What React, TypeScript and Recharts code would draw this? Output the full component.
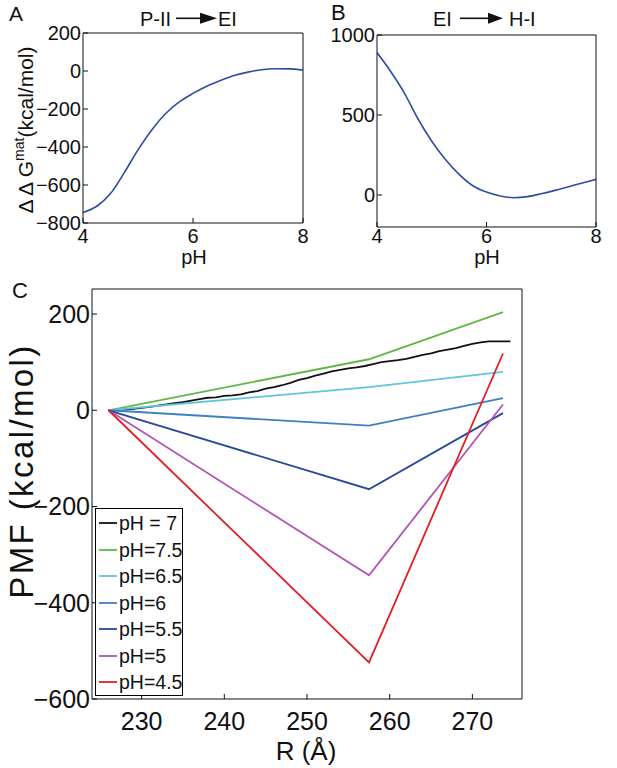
import React from 'react';
import { LineChart, Line, XAxis, YAxis, Legend } from 'recharts';

const FONT = '"Liberation Sans", Arial, Helvetica, sans-serif';

// Panel A: P-II -> EI
const phA = [4, 4.25, 4.5, 4.75, 5, 5.25, 5.5, 5.75, 6, 6.25, 6.5, 6.75, 7, 7.25, 7.5, 7.75, 8];
const dGA = [-745, -712, -645, -535, -415, -310, -225, -163, -118, -80, -50, -24, -6, 7, 12, 11, 5];

// Panel B: EI -> H-I
const phB = [4, 4.25, 4.5, 4.75, 5, 5.25, 5.5, 5.75, 6, 6.25, 6.5, 6.75, 7, 7.25, 7.5, 7.75, 8];
const dGB = [890, 772, 637, 475, 336, 222, 129, 58, 18, -6, -17, -10, 8, 29, 52, 75, 98];

// Panel C: PMF vs R
const rKinks = [226, 257.5, 273.7];
const pmf75 = [0, 106, 204];
const pmf65 = [0, 48, 80];
const pmf6 = [0, -32, 25];
const pmf55 = [0, -164, -6];
const pmf5 = [0, -343, 12];
const pmf45 = [0, -524, 118];

const rBlack = [226, 227, 228, 229, 230, 231, 232, 233, 234, 235, 236, 237, 238, 239, 240, 241, 242, 243, 244, 245, 246, 247, 248, 249, 250, 251, 252, 253, 254, 255, 256, 257, 258, 259, 260, 261, 262, 263, 264, 265, 266, 267, 268, 269, 270, 271, 272, 273, 274, 274.6];
const pmf7 = [0, 0.5, 1.5, 3, 5, 7, 9.5, 12, 15, 17, 20, 23, 26, 27, 30, 31, 33, 37, 40, 45, 48, 52, 57, 63, 67, 72, 76, 81, 84, 87, 89, 92, 96, 100, 102, 104, 107, 111, 115, 118, 123, 126, 129, 134, 138, 141, 143, 143, 143, 143];

const aTicksX = [4, 6, 8];
const aTicksY = [-800, -600, -400, -200, 0, 200];
const bTicksX = [4, 6, 8];
const bTicksY = [0, 500, 1000];
const cTicksX = [230, 240, 250, 260, 270];
const cTicksY = [-600, -400, -200, 0, 200];

const seriesNames = ['pH = 7', 'pH=7.5', 'pH=6.5', 'pH=6', 'pH=5.5', 'pH=5', 'pH=4.5'];
const seriesColors = ['#111111', '#5fb846', '#5ec6d9', '#3f7fc4', '#26479a', '#b055b4', '#e31e24'];

const zip = (xs: number[], ys: number[]) => xs.map((x, i) => ({ x, y: ys[i] }));

const dataA = zip(phA, dGA);
const dataB = zip(phB, dGB);
const seriesData = [
  zip(rBlack, pmf7),
  zip(rKinks, pmf75),
  zip(rKinks, pmf65),
  zip(rKinks, pmf6),
  zip(rKinks, pmf55),
  zip(rKinks, pmf5),
  zip(rKinks, pmf45),
];

const fmt = (v: number) => (v < 0 ? '\u2212' + Math.abs(v) : String(v));
const curveColor = '#2c4da0';

const LegendBox = () => (
  <div
    style={{
      width: 88,
      height: 188,
      boxSizing: 'border-box',
      border: '1.5px solid #000',
      background: '#fff',
      paddingTop: 1,
      fontFamily: FONT,
    }}
  >
    {seriesNames.map((n, i) => (
      <div key={n} style={{ height: 26.5, display: 'flex', alignItems: 'center' }}>
        <svg width={23} height={4} style={{ flex: 'none' }}>
          <line x1={3} y1={2} x2={21} y2={2} stroke={seriesColors[i]} strokeWidth={1.8} />
        </svg>
        <span style={{ fontSize: 19.5, color: '#111', whiteSpace: 'nowrap', lineHeight: '26px' }}>{n}</span>
      </div>
    ))}
  </div>
);

const smallTick = { fill: '#111', fontSize: 20, fontFamily: FONT };
const bigTick = { fill: '#111', fontSize: 25, fontFamily: FONT };

export default function App() {
  return (
    <div style={{ position: 'absolute', left: 0, top: 0, width: 617, height: 768, background: '#fff', fontFamily: FONT }}>
      {/* Panel A */}
      <div style={{ position: 'absolute', left: 0, top: 0 }}>
        <LineChart width={310} height={270} data={dataA} margin={{ top: 32, right: 6, bottom: 17, left: 0 }}>
          <XAxis dataKey="x" type="number" domain={[4, 8]} ticks={aTicksX} height={30} tickSize={-5} tickMargin={11}
            stroke="#111" tick={smallTick} allowDataOverflow />
          <XAxis xAxisId="top" dataKey="x" type="number" domain={[4, 8]} ticks={aTicksX} orientation="top" height={1}
            tickSize={-5} tick={false} stroke="#111" />
          <YAxis type="number" domain={[-800, 200]} ticks={aTicksY} width={83} tickSize={-5} tickMargin={7}
            stroke="#111" tick={smallTick} tickFormatter={fmt} allowDataOverflow />
          <YAxis yAxisId="right" type="number" domain={[-800, 200]} ticks={aTicksY} orientation="right" width={1}
            tickSize={-5} tick={false} stroke="#111" />
          <Line type="monotone" dataKey="y" stroke={curveColor} strokeWidth={1.6} dot={false} isAnimationActive={false} />
        </LineChart>
      </div>

      {/* Panel B */}
      <div style={{ position: 'absolute', left: 300, top: 0 }}>
        <LineChart width={317} height={270} data={dataB} margin={{ top: 34, right: 20, bottom: 13, left: 0 }}>
          <XAxis dataKey="x" type="number" domain={[4, 8]} ticks={bTicksX} height={30} tickSize={-5} tickMargin={7}
            stroke="#111" tick={smallTick} allowDataOverflow />
          <XAxis xAxisId="top" dataKey="x" type="number" domain={[4, 8]} ticks={bTicksX} orientation="top" height={1}
            tickSize={-5} tick={false} stroke="#111" />
          <YAxis type="number" domain={[-200, 1000]} ticks={bTicksY} width={77} tickSize={-5} tickMargin={7}
            stroke="#111" tick={smallTick} tickFormatter={fmt} allowDataOverflow />
          <YAxis yAxisId="right" type="number" domain={[-200, 1000]} ticks={bTicksY} orientation="right" width={1}
            tickSize={-5} tick={false} stroke="#111" />
          <Line type="monotone" dataKey="y" stroke={curveColor} strokeWidth={1.6} dot={false} isAnimationActive={false} />
        </LineChart>
      </div>

      {/* Panel C */}
      <div style={{ position: 'absolute', left: 0, top: 270 }}>
        <LineChart width={617} height={498} margin={{ top: 18, right: 94, bottom: 39, left: 0 }}>
          <XAxis dataKey="x" type="number" domain={[224, 276]} ticks={cTicksX} height={30} tickSize={-5} tickMargin={18}
            stroke="#111" tick={bigTick} allowDataOverflow />
          <XAxis xAxisId="top" dataKey="x" type="number" domain={[224, 276]} ticks={cTicksX} orientation="top" height={1}
            tickSize={-5} tick={false} stroke="#111" />
          <YAxis type="number" domain={[-600, 252]} ticks={cTicksY} width={92} tickSize={-5} tickMargin={7}
            stroke="#111" tick={bigTick} tickFormatter={fmt} allowDataOverflow />
          <YAxis yAxisId="right" type="number" domain={[-600, 252]} ticks={cTicksY} orientation="right" width={1}
            tickSize={-5} tick={false} stroke="#111" />
          {seriesData.map((d, i) => (
            <Line key={seriesNames[i]} data={d} type="linear" dataKey="y" name={seriesNames[i]} stroke={seriesColors[i]}
              strokeWidth={1.8} dot={false} isAnimationActive={false} />
          ))}
          <Legend layout="vertical" align="center" verticalAlign="middle" content={() => <LegendBox />}
            wrapperStyle={{ position: 'absolute', left: 95, top: 238, width: 88, height: 188, margin: 0 }} />
        </LineChart>
      </div>

      {/* Text overlay */}
      <svg width={617} height={768} style={{ position: 'absolute', left: 0, top: 0, pointerEvents: 'none' }}
        fontFamily={FONT} fill="#111">
        <text x={9} y={21} fontSize={21}>A</text>
        <text x={331} y={20} fontSize={22}>B</text>
        <text x={12} y={298} fontSize={22}>C</text>

        <text x={140} y={26} fontSize={20}>P-II</text>
        <line x1={176} y1={18.3} x2={204} y2={18.3} stroke="#111" strokeWidth={1.6} />
        <polygon points="200,12.8 217,18.3 200,23.8" fill="#111" />
        <text x={218} y={26} fontSize={20}>EI</text>

        <text x={433} y={26} fontSize={20}>EI</text>
        <line x1={460} y1={18.3} x2={492} y2={18.3} stroke="#111" strokeWidth={1.6} />
        <polygon points="488,12.8 503,18.3 488,23.8" fill="#111" />
        <text x={509} y={26} fontSize={20}>H-I</text>

        <text x={194} y={264} fontSize={20} textAnchor="middle">pH</text>
        <text x={487} y={264} fontSize={20} textAnchor="middle">pH</text>

        <text transform="translate(33,130) rotate(-90)" textAnchor="middle" fontSize={21}>
          {'\u0394 \u0394 G'}
          <tspan fontSize={14} dy={-9}>mat</tspan>
          <tspan fontSize={21} dy={9}>(kcal/mol)</tspan>
        </text>

        <text transform="translate(33,471) rotate(-90)" textAnchor="middle" fontSize={33} letterSpacing={2.4}>
          PMF (kcal/mol)
        </text>
        <text x={306} y={760} fontSize={26} textAnchor="middle">R (Å)</text>
      </svg>
    </div>
  );
}
